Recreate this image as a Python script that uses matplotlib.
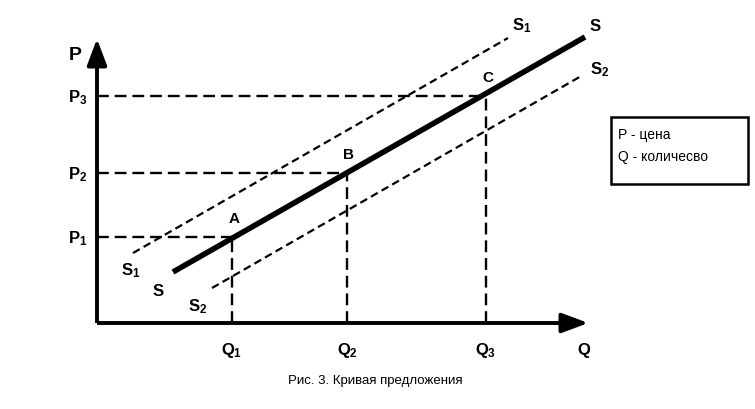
import matplotlib.pyplot as plt
from matplotlib.patches import Rectangle

plt.rcParams['font.family'] = ['Liberation Sans', 'DejaVu Sans']
plt.rcParams['mathtext.fontset'] = 'custom'
plt.rcParams['mathtext.rm'] = 'Liberation Sans:bold'
plt.rcParams['mathtext.it'] = 'Liberation Sans:bold'
plt.rcParams['mathtext.bf'] = 'Liberation Sans:bold'

# quantities / prices of the points A, B, C
q_vals = [135, 250, 389]
p_vals = [86, 150, 227]
q_labels = ['$Q_1$', '$Q_2$', '$Q_3$']
p_labels = ['$P_1$', '$P_2$', '$P_3$']
point_names = ['A', 'B', 'C']

# supply curves (start, end)
s_x = [76, 488]
s_y = [51, 286]
s1_x = [36, 411]
s1_y = [70, 285]
s2_x = [115, 486]
s2_y = [35, 248]

fig = plt.figure(figsize=(7.55, 4.09), dpi=100)
ax = fig.add_axes([0, 0, 1, 1])
ax.set_xlim(-97, 658)
ax.set_ylim(-86, 323)
ax.axis('off')

# axes with arrows
ax.plot([0, 0], [0, 266], color='black', lw=2.8, solid_capstyle='butt')
ax.plot([0, 474], [0, 0], color='black', lw=2.8, solid_capstyle='butt')
ax.annotate('', xy=(0, 287), xytext=(0, 258),
            arrowprops=dict(arrowstyle='-|>,head_length=1.6,head_width=0.6',
                            color='black', lw=2.8))
ax.annotate('', xy=(494, 0), xytext=(466, 0),
            arrowprops=dict(arrowstyle='-|>,head_length=1.6,head_width=0.6',
                            color='black', lw=2.8))

# guide lines
for q, p in zip(q_vals, p_vals):
    ax.plot([0, q], [p, p], color='black', lw=1.7, linestyle=(0, (5, 2.5)))
    ax.plot([q, q], [0, p], color='black', lw=1.7, linestyle=(0, (5, 2.5)))

# curves
ax.plot(s1_x, s1_y, color='black', lw=1.6, linestyle=(0, (3.5, 2)))
ax.plot(s2_x, s2_y, color='black', lw=1.6, linestyle=(0, (3.5, 2)))
ax.plot(s_x, s_y, color='black', lw=4, solid_capstyle='butt')

lab = dict(fontsize=12, ha='center', va='center', color='black')
for q, p, ql, pl, n in zip(q_vals, p_vals, q_labels, p_labels, point_names):
    ax.text(q, -28, ql, **lab)
    ax.text(-19, p - 2, pl, **lab)
    ax.text(q + 2, p + 18, n, fontsize=11, fontweight='bold', ha='center', va='center')

ax.text(-22, 267, 'P', fontsize=14, fontweight='bold', ha='center', va='center')
ax.text(487, -27, 'Q', fontsize=12, fontweight='bold', ha='center', va='center')

ax.text(s1_x[0] - 2, s1_y[0] - 18, '$S_1$', **lab)
ax.text(s_x[0] - 15, s_y[0] - 19, '$S$', **lab)
ax.text(s2_x[0] - 14, s2_y[0] - 19, '$S_2$', **lab)
ax.text(s1_x[1] + 14, s1_y[1] + 12, '$S_1$', **lab)
ax.text(s_x[1] + 10, s_y[1] + 11, '$S$', **lab)
ax.text(s2_x[1] + 17, s2_y[1] + 5, '$S_2$', **lab)

# legend box
ax.add_patch(Rectangle((514, 139), 137, 67, fill=False, edgecolor='black', lw=1.8))
ax.text(521, 188, 'P - цена', fontsize=10, ha='left', va='center')
ax.text(521, 166, 'Q - количесво', fontsize=10, ha='left', va='center')

ax.text(278, -58, 'Рис. 3. Кривая предложения', fontsize=9.5, ha='center', va='center')

fig.savefig('out.png', dpi=100)
